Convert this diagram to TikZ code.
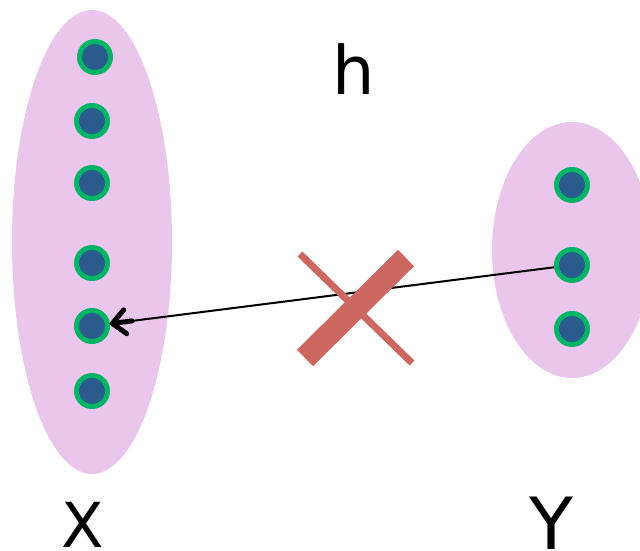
\documentclass[tikz,border=0pt]{standalone}
\usepackage{fontspec}
\setmainfont{DejaVu Sans}
\usetikzlibrary{arrows.meta}
\definecolor{SetPink}{HTML}{EBC6EC}
\definecolor{DotBlue}{HTML}{2A5B8C}
\definecolor{DotGreen}{HTML}{00B466}
\definecolor{CrossRed}{HTML}{CD6860}
\tikzset{
  elem/.style={circle, fill=DotBlue, draw=DotGreen, line width=5pt, minimum size=31pt, inner sep=0pt},
  lbl/.style={inner sep=0pt, anchor=base}
}

\begin{document}
\begin{tikzpicture}[x=1pt, y=-1pt]
        \useasboundingbox (0,0) rectangle (640,550);
        \begin{scope}
            \clip (0,0) rectangle (640,550);
            \fill[SetPink] (92,242) ellipse [x radius=80, y radius=232];
            \fill[SetPink] (572,250) ellipse [x radius=80, y radius=128];
        \end{scope}
        \foreach \xx/\yy [count=\i] in {95/57,92/121,92/183,92/263,92/326,92/391} {
            \node[elem] (x\i) at (\xx,\yy) {};
        }
        \foreach \yy [count=\i] in {185,265,329} {
            \node[elem] (y\i) at (572,\yy) {};
        }
        \draw[line width=2pt] (y2) -- (x5) coordinate[pos=0.95] (tipbase);
        \draw[line width=5pt, line cap=round, -{Straight Barb[length=13pt, width=24pt, round]}] (tipbase) -- (x5);
        % the cross over the mapping
        \draw[CrossRed, line width=7pt] (300,254) -- (412,363);
        \draw[CrossRed, line width=23pt] (305,358) -- (406,258);
        \node[lbl, font=\fontsize{67}{67}\selectfont] (h) at (354,94) {h};
        \node[lbl, font=\fontsize{62}{62}\selectfont] (X) at (83,547) {X};
        \node[lbl, font=\fontsize{72}{72}\selectfont] (Y) at (551,549) {Y};
    \end{tikzpicture}
\end{document}
